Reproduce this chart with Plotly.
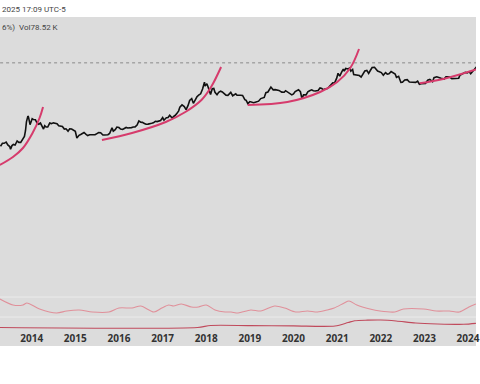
import plotly.graph_objects as go
from datetime import datetime

# ---------------- data ----------------
price_dates = [
 "2013-04-15","2013-05-01","2013-05-15","2013-06-01","2013-06-15","2013-07-01","2013-07-08","2013-07-20",
 "2013-08-01","2013-08-15","2013-09-01","2013-09-15","2013-10-01","2013-10-15","2013-11-01","2013-11-10",
 "2013-11-18","2013-11-30","2013-12-05","2013-12-18","2013-12-25",
 "2014-01-05","2014-01-15","2014-02-01","2014-02-15","2014-03-01","2014-03-15","2014-04-01","2014-04-10",
 "2014-04-20","2014-05-01","2014-05-15","2014-06-01","2014-06-15","2014-07-01","2014-07-15","2014-08-01",
 "2014-08-15","2014-09-01","2014-09-15","2014-10-01","2014-10-15","2014-11-01","2014-11-15","2014-12-01","2014-12-15",
 "2015-01-01","2015-01-14","2015-02-01","2015-02-15","2015-03-01","2015-03-15","2015-04-01","2015-04-15",
 "2015-05-01","2015-05-15","2015-06-01","2015-06-15","2015-07-01","2015-07-15","2015-08-01","2015-08-20",
 "2015-09-01","2015-09-15","2015-10-01","2015-10-15","2015-11-04","2015-11-15","2015-12-01","2015-12-15",
 "2016-01-01","2016-01-15","2016-02-01","2016-02-15","2016-03-01","2016-03-15","2016-04-01","2016-04-15",
 "2016-05-01","2016-05-15","2016-06-01","2016-06-16","2016-07-01","2016-07-15","2016-08-01","2016-08-15",
 "2016-09-01","2016-09-15","2016-10-01","2016-10-15","2016-11-01","2016-11-15","2016-12-01","2016-12-15",
 "2017-01-01","2017-01-12","2017-02-01","2017-02-15","2017-03-01","2017-03-24","2017-04-01","2017-04-15",
 "2017-05-01","2017-05-15","2017-05-25","2017-06-12","2017-07-01","2017-07-16","2017-08-01","2017-08-15",
 "2017-09-01","2017-09-15","2017-10-01","2017-10-15","2017-11-01","2017-11-15","2017-12-01","2017-12-17","2017-12-22",
 "2018-01-06","2018-01-15","2018-02-06","2018-02-20","2018-03-05","2018-03-15","2018-04-01","2018-04-15",
 "2018-05-01","2018-05-15","2018-06-01","2018-06-15","2018-07-01","2018-07-25","2018-08-10","2018-08-25",
 "2018-09-05","2018-09-15","2018-10-01","2018-10-15","2018-11-01","2018-11-20","2018-12-01","2018-12-15",
 "2019-01-01","2019-01-15","2019-02-01","2019-02-15","2019-03-01","2019-03-15","2019-04-02","2019-04-15",
 "2019-05-01","2019-05-15","2019-06-01","2019-06-26","2019-07-15","2019-08-01","2019-08-15","2019-09-01",
 "2019-09-25","2019-10-15","2019-10-27","2019-11-15","2019-12-01","2019-12-18",
 "2020-01-01","2020-01-15","2020-02-12","2020-02-28","2020-03-12","2020-03-25","2020-04-15","2020-04-30",
 "2020-05-15","2020-06-01","2020-06-15","2020-07-01","2020-07-25","2020-08-10","2020-08-25","2020-09-05",
 "2020-09-20","2020-10-10","2020-10-25","2020-11-10","2020-11-25","2020-12-10","2020-12-27",
 "2021-01-08","2021-01-22","2021-02-08","2021-02-21","2021-03-01","2021-03-13","2021-04-01","2021-04-14",
 "2021-04-25","2021-05-10","2021-05-19","2021-06-01","2021-06-20","2021-07-05","2021-07-20","2021-08-05",
 "2021-08-20","2021-09-06","2021-09-21","2021-10-05","2021-10-20","2021-11-09","2021-11-25","2021-12-05","2021-12-20",
 "2022-01-05","2022-01-22","2022-02-10","2022-02-24","2022-03-10","2022-03-28","2022-04-15","2022-05-01",
 "2022-05-12","2022-05-30","2022-06-18","2022-07-01","2022-07-20","2022-08-10","2022-08-28","2022-09-15",
 "2022-10-01","2022-10-20","2022-11-05","2022-11-20","2022-12-05","2022-12-25",
 "2023-01-10","2023-01-28","2023-02-15","2023-03-10","2023-03-22","2023-04-14","2023-05-01","2023-05-20",
 "2023-06-15","2023-06-30","2023-07-15","2023-08-01","2023-08-18","2023-09-10","2023-09-28","2023-10-15",
 "2023-10-25","2023-11-15","2023-12-08","2023-12-25",
 "2024-01-11","2024-01-23","2024-02-10","2024-02-28","2024-03-14","2024-03-31",
]
price_values = [
 90,115,115,128,100,88,70,95,
 105,100,140,125,125,150,205,330,
 700,1130,1050,550,700,
 900,850,830,620,570,630,470,380,
 500,450,450,630,600,640,620,590,
 500,480,470,380,390,320,390,380,340,
 315,180,225,240,260,285,245,220,
 235,235,225,235,260,285,280,230,
 230,230,237,262,420,320,360,450,
 430,380,370,400,435,415,417,430,
 450,455,535,750,675,665,610,570,
 575,608,615,640,730,710,750,780,
 1000,800,980,1010,1220,930,1080,1180,
 1420,1750,2400,2900,2500,1950,2700,4200,
 4900,3300,4400,5700,6700,7300,10900,19300,14000,
 17100,13600,6900,11200,11500,8300,6800,8300,
 9200,8500,7500,6500,6400,8200,6200,6700,
 7300,6500,6600,6500,6350,4500,4200,3200,
 3800,3600,3450,3600,3850,3950,4900,5100,
 5400,8000,8500,12900,10200,10400,10300,9700,
 8400,8300,9500,8500,7400,6700,
 7200,8800,10300,8700,4900,6700,6700,8700,
 9400,10200,9400,9200,9700,11900,11400,10200,
 10900,11300,13100,15300,18300,18200,26500,
 40700,32000,46000,57500,49500,61000,58800,63500,
 49000,56000,37000,36700,35600,33800,29800,40900,
 49300,51800,40600,51500,65900,67600,57100,49400,46700,
 43500,35000,43500,38300,39400,47100,40500,38400,
 29000,31700,19000,19300,23200,23900,19600,19700,
 19300,19100,21300,16300,17100,16800,
 17400,23000,24300,20200,28300,30500,28000,26800,
 25100,30500,30300,29700,26000,25800,27000,27100,
 34500,37900,44200,42500,
 46300,39500,47700,62500,71500,70000,
]

last_price = 98000  # dotted current-price line

# hand-drawn curves (decimal year, price)
arc1_years = [2013.27, 2013.57, 2013.80, 2014.02, 2014.18, 2014.26]
arc1_prices = [18.7, 36.5, 77.6, 273, 960, 2415]
arc2_years = [2015.61, 2016.30, 2017.07, 2017.52, 2017.89, 2018.11, 2018.34]
arc2_prices = [152, 273, 687, 1589, 4349, 12910, 69060]
arc3_years = [2018.95, 2019.86, 2020.61, 2021.00, 2021.30, 2021.50]
arc3_prices = [2858, 3673, 8495, 19660, 63690, 312900]
arc4_years = [2022.89, 2023.43, 2024.18, 2024.41]
arc4_prices = [17620, 25290, 56090, 75200]

# oscillator panel
osc_years = [2013.27,2013.57,2013.80,2013.89,2014.18,2014.57,2014.80,2015.09,2015.39,2015.77,
             2016.00,2016.30,2016.50,2016.80,2016.98,2017.14,2017.25,2017.43,2017.66,2017.82,
             2018.00,2018.20,2018.43,2018.57,2018.73,2019.02,2019.25,2019.57,2019.80,2020.05,
             2020.32,2020.55,2020.77,2020.93,2021.16,2021.27,2021.45,2021.75,2021.98,2022.32,
             2022.52,2022.98,2023.27,2023.57,2023.80,2024.02,2024.18]
osc_values = [90,60,60,70,40,20,30,35,25,25,
              45,45,55,25,45,60,55,65,50,50,
              60,35,25,25,20,35,30,55,45,25,
              30,25,35,45,70,80,60,40,30,25,
              40,40,30,30,25,50,65]

# lower panel
low_years = [2013.27,2017.80,2018.10,2019.00,2020.00,2020.95,2021.25,2021.40,2021.70,2022.00,
             2022.35,2022.80,2023.30,2023.90,2024.18]
low_values = [12.5,12.5,29,28,26,25,54,69,74,75,67,50,42,39,47]

year_ticks = list(range(2014, 2025))

# ---------------- helpers ----------------
def to_date(v):
    y = int(v)
    a = datetime(y, 1, 1)
    b = datetime(y + 1, 1, 1)
    return a + (b - a) * (v - y)

H = 384.0
def frac(px):
    return (H - px) / H

fig = go.Figure()

ARC = "#d63b6c"
fig.add_trace(go.Scatter(x=[to_date(v) for v in [2013.0, 2024.5]], y=[last_price, last_price],
                         mode="lines", line=dict(color="#8a8a8a", width=1, dash="dot"),
                         xaxis="x", yaxis="y", hoverinfo="skip"))
fig.add_trace(go.Scatter(x=price_dates, y=price_values, mode="lines",
                         line=dict(color="#111111", width=1.6), xaxis="x", yaxis="y"))
for ys, ps in [(arc1_years, arc1_prices), (arc2_years, arc2_prices),
               (arc3_years, arc3_prices), (arc4_years, arc4_prices)]:
    fig.add_trace(go.Scatter(x=[to_date(v) for v in ys], y=ps, mode="lines",
                             line=dict(color=ARC, width=2, shape="spline", smoothing=1.0),
                             xaxis="x", yaxis="y"))

fig.add_trace(go.Scatter(x=[to_date(v) for v in osc_years], y=osc_values, mode="lines",
                         line=dict(color="#e0909a", width=1.1, shape="spline", smoothing=0.8),
                         xaxis="x", yaxis="y2"))
fig.add_trace(go.Scatter(x=[to_date(v) for v in low_years], y=low_values, mode="lines",
                         line=dict(color="#c04a5c", width=1.1, shape="spline", smoothing=0.8),
                         xaxis="x", yaxis="y3"))

GREY = "#dcdcdc"
fig.update_layout(
    width=480, height=384, margin=dict(l=0, r=0, t=0, b=0),
    paper_bgcolor="white", plot_bgcolor="rgba(0,0,0,0)", showlegend=False,
    xaxis=dict(type="date", range=[to_date(2013.273), to_date(2024.182)], anchor="y3",
               showgrid=False, zeroline=False, showline=False, ticks="",
               tickvals=[to_date(v) for v in year_ticks], ticktext=[str(v) for v in year_ticks],
               tickfont=dict(family="Open Sans", size=10, color="#333333", weight="bold"),
               ticklabelstandoff=2, ticklabeloverflow="allow"),
    yaxis=dict(type="log", domain=[frac(297), frac(17)], range=[-3.536, 6.661],
               showgrid=False, zeroline=False, showticklabels=False, ticks=""),
    yaxis2=dict(domain=[frac(317), frac(297)], range=[0, 100],
                showgrid=False, zeroline=False, showticklabels=False, ticks=""),
    yaxis3=dict(domain=[frac(329), frac(317)], range=[0, 100],
                showgrid=False, zeroline=False, showticklabels=False, ticks=""),
    shapes=[
        dict(type="rect", xref="paper", yref="paper", x0=0, x1=1, y0=frac(346), y1=frac(17),
             fillcolor=GREY, line=dict(width=0), layer="below"),
        dict(type="line", xref="paper", yref="paper", x0=0, x1=1, y0=frac(297), y1=frac(297),
             line=dict(color="#ebebeb", width=1), layer="below"),
        dict(type="line", xref="paper", yref="paper", x0=0, x1=1, y0=frac(317), y1=frac(317),
             line=dict(color="#ebebeb", width=1), layer="below"),
    ],
    annotations=[
        dict(text="2025 17:09 UTC-5", xref="paper", yref="paper", x=0.0, y=frac(9),
             xanchor="left", yanchor="middle", showarrow=False,
             font=dict(family="Roboto", size=8, color="#444444")),
        dict(text="6%)&nbsp;&nbsp;Vol78.52 K", xref="paper", yref="paper", x=0.0, y=frac(27),
             xanchor="left", yanchor="middle", showarrow=False,
             font=dict(family="Roboto", size=8, color="#444444")),
    ],
)

fig.write_html("out.html", config={"displayModeBar": False},
               post_script="document.body.style.margin='0';")
